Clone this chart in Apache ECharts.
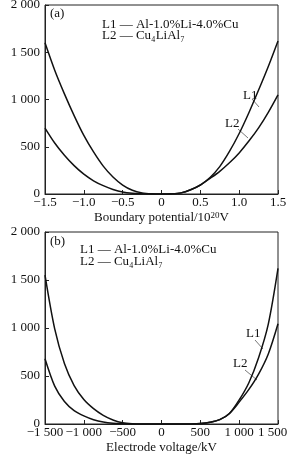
<!DOCTYPE html>
<html>
<head>
<meta charset="utf-8">
<script src="https://cdn.jsdelivr.net/npm/echarts@6/dist/echarts.min.js"></script>
<style>
html,body{margin:0;padding:0;background:#fff;}
#main{width:287px;height:454px;}
</style>
</head>
<body>
<div id="main"></div>
<script>
// panel (a) boundary potential
var xA = [-1.5,-1.375,-1.25,-1.125,-1.0,-0.875,-0.75,-0.625,-0.5,-0.375,-0.25,-0.125,0,0.125,0.25,0.375,0.5,0.625,0.75,0.875,1.0,1.125,1.25,1.375,1.5];
var l1A = [1600,1310,1060,830,620,445,295,180,95,40,12,2,0,2,12,45,95,175,290,450,640,860,1100,1350,1620];
var l2A = [698,540,410,300,210,140,88,48,20,7,2,0,0,2,12,45,95,165,240,330,435,560,700,865,1050];
// panel (b) electrode voltage
var xB = [-1500,-1375,-1250,-1125,-1000,-875,-750,-625,-500,-375,-250,-125,0,125,250,375,500,625,750,875,1000,1125,1250,1375,1500];
var l1B = [1550,990,630,400,255,160,90,42,12,2,0,0,0,0,0,1,5,18,45,110,250,430,690,1040,1620];
var l2B = [680,395,235,140,85,45,20,7,2,0,0,0,0,0,0,1,5,18,45,110,228,360,520,730,1045];

var yTicks = ['0','500','1 000','1 500','2 000'];
var legendL1 = 'L1 — Al-1.0%Li-4.0%Cu';
var legendL2 = 'L2 — Cu₄LiAl₇';

var FONT = 'Liberation Serif';

function pairs(xs, ys){
  var out = [];
  for (var i = 0; i < xs.length; i++) {
    out.push([xs[i], ys[i]]);
  }
  return out;
}

function fmtNum(v, dec){
  var s;
  if (v == 0) return '0';
  if (dec > 0) {
    s = Math.abs(v).toFixed(dec);
  } else {
    s = String(Math.abs(v));
    if (s.length > 3) s = s.slice(0, s.length - 3) + ' ' + s.slice(s.length - 3);
  }
  return (v < 0 ? '−' : '') + s;
}

var baseText = {fontFamily:FONT,fontSize:13,color:'#111'};

function xAxisOf(idx, mn, mx, step, dec, name){
  return {
    type:'value', gridIndex:idx, min:mn, max:mx, interval:step,
    name:name, nameLocation:'middle', nameGap:17,
    nameTextStyle:{fontFamily:FONT,fontSize:13,color:'#111',
      rich:{n:baseText, s:{fontFamily:FONT,fontSize:9,color:'#111',verticalAlign:'top',lineHeight:13}}},
    axisLine:{show:true,onZero:false,lineStyle:{color:'#222',width:1}},
    axisTick:{show:true,inside:true,length:4,lineStyle:{color:'#222'}},
    axisLabel:{fontFamily:FONT,fontSize:13,color:'#111',margin:2,interval:0,
      showMinLabel:true,showMaxLabel:true,hideOverlap:false,
      rich:{m:{fontFamily:FONT,fontSize:13,color:'#111',padding:[0,11,0,0]}},
      formatter:function(v){
        var s = fmtNum(v, dec);
        if (dec == 0 && v == mx) return '{m|' + s + '}';
        return s;
      }},
    splitLine:{show:false}
  };
}

function yAxisOf(idx){
  return {
    type:'value', gridIndex:idx, min:0, max:2000, interval:500,
    name:'Free energy/V', nameLocation:'middle', nameGap:38,
    nameTextStyle:{fontFamily:FONT,fontSize:13,color:'#111'},
    axisLine:{show:true,onZero:false,lineStyle:{color:'#222',width:1}},
    axisTick:{show:true,inside:true,length:4,lineStyle:{color:'#222'}},
    axisLabel:{fontFamily:FONT,fontSize:13,color:'#111',margin:5,interval:0,
      showMinLabel:true,showMaxLabel:true,hideOverlap:false,
      formatter:function(v){ return yTicks[v / 500]; }},
    splitLine:{show:false}
  };
}

function lineSerie(name, idx, data){
  return {
    name:name, type:'line', xAxisIndex:idx, yAxisIndex:idx,
    data:data, smooth:0.3, showSymbol:false, clip:true,
    lineStyle:{color:'#111',width:1.5}
  };
}

function txt(x, y, s, size){
  return {type:'text', left:x, top:y, silent:true,
    style:{text:s, fontFamily:FONT, fontSize:size || 13, fill:'#111'}};
}
function leader(x1, y1, x2, y2){
  return {type:'line', silent:true, shape:{x1:x1,y1:y1,x2:x2,y2:y2},
    style:{stroke:'#555',lineWidth:0.8}};
}

var myChart = echarts.init(document.getElementById('main'), null, {renderer:'canvas'});
var option = {
  backgroundColor:'#fff',
  animation:false,
  grid:[
    {left:45, right:9, top:5, height:189, show:true, borderColor:'#222', borderWidth:1,
     containLabel:false, outerBoundsMode:'none'},
    {left:45, right:9, top:232, height:192, show:true, borderColor:'#222', borderWidth:1,
     containLabel:false, outerBoundsMode:'none'}
  ],
  xAxis:[
    xAxisOf(0, -1.5, 1.5, 0.5, 1, '{n|Boundary potential/10}{s|20}{n|V}'),
    xAxisOf(1, -1500, 1500, 500, 0, 'Electrode voltage/kV')
  ],
  yAxis:[yAxisOf(0), yAxisOf(1)],
  series:[
    lineSerie('L1', 0, pairs(xA, l1A)),
    lineSerie('L2', 0, pairs(xA, l2A)),
    lineSerie('L1', 1, pairs(xB, l1B)),
    lineSerie('L2', 1, pairs(xB, l2B))
  ],
  graphic:[
    txt(50, 7, '(a)'),
    txt(102, 18, legendL1),
    txt(102, 29, legendL2),
    txt(243, 89, 'L1'),
    leader(252, 99, 259, 107),
    txt(225, 117, 'L2'),
    leader(238, 129, 248, 138),
    txt(50, 235, '(b)'),
    txt(80, 243, legendL1),
    txt(80, 255, legendL2),
    txt(246, 327, 'L1'),
    leader(255, 340, 263, 349),
    txt(233, 357, 'L2'),
    leader(245, 370, 257, 380)
  ]
};
myChart.setOption(option);
</script>
</body>
</html>
